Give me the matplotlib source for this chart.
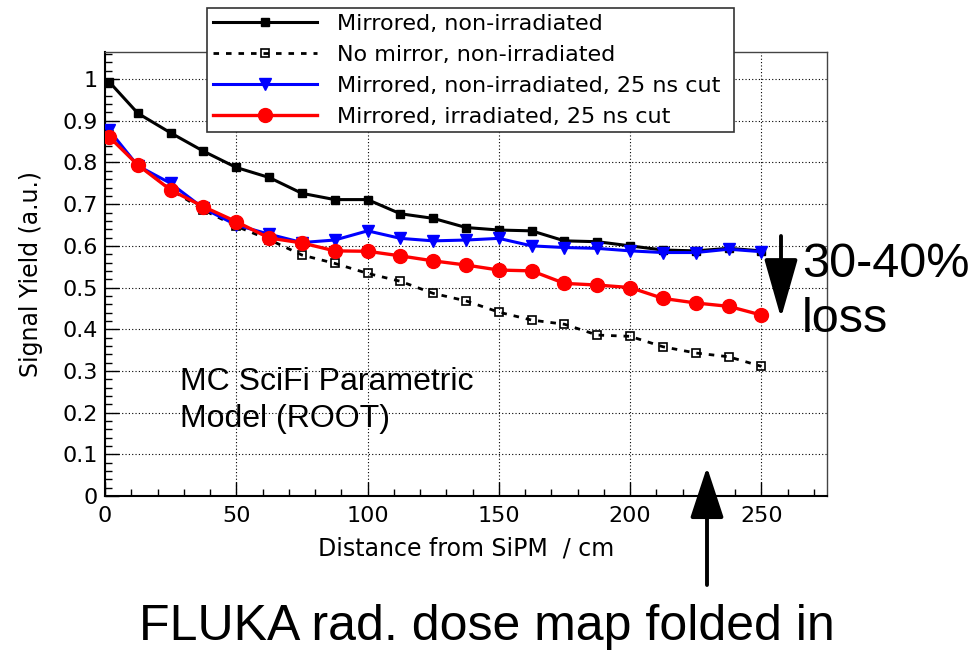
import numpy as np
import matplotlib
matplotlib.use("Agg")
import matplotlib.pyplot as plt
from matplotlib.patches import FancyArrowPatch
from matplotlib.ticker import MultipleLocator

# fibre distance from the SiPM (cm)
distance = [1.5, 12.5, 25, 37.5, 50, 62.5, 75, 87.5, 100, 112.5, 125,
            137.5, 150, 162.5, 175, 187.5, 200, 212.5, 225, 237.5, 250]

# signal yield (a.u.)
mirrored = [0.994, 0.918, 0.871, 0.827, 0.788, 0.764, 0.726, 0.711, 0.711, 0.677, 0.666,
            0.644, 0.638, 0.636, 0.612, 0.610, 0.600, 0.590, 0.588, 0.594, 0.588]
no_mirror = [0.866, 0.795, 0.735, 0.686, 0.647, 0.615, 0.578, 0.558, 0.534, 0.515, 0.486,
             0.468, 0.441, 0.422, 0.412, 0.386, 0.383, 0.358, 0.343, 0.334, 0.311]
mirrored_cut = [0.878, 0.792, 0.750, 0.690, 0.650, 0.628, 0.608, 0.614, 0.636, 0.618, 0.612,
                0.614, 0.618, 0.600, 0.596, 0.594, 0.588, 0.584, 0.584, 0.592, 0.586]
irradiated_cut = [0.862, 0.794, 0.734, 0.694, 0.658, 0.619, 0.607, 0.588, 0.587, 0.576, 0.564,
                  0.554, 0.542, 0.540, 0.510, 0.506, 0.500, 0.474, 0.463, 0.455, 0.434]

labels = ["Mirrored, non-irradiated",
          "No mirror, non-irradiated",
          "Mirrored, non-irradiated, 25 ns cut",
          "Mirrored, irradiated, 25 ns cut"]

plt.rcParams['font.family'] = ['DejaVu Sans']
ann_font = ['Liberation Sans', 'DejaVu Sans']

W, H = 969, 651
fig = plt.figure(figsize=(W / 100, H / 100), dpi=100)
ax = fig.add_axes([0.1084, 0.2381, 0.7451, 0.682])

l1, = ax.plot(distance, mirrored, color='black', lw=2.2, marker='s', ms=6,
              zorder=3)
l2, = ax.plot(distance, no_mirror, color='black', lw=2.0, ls=(0, (2, 2.5)),
              marker='s', ms=6, mfc='none', mec='black', mew=1.2, zorder=2)
l3, = ax.plot(distance, mirrored_cut, color='#0000ff', lw=2.2, marker='v', ms=9,
              zorder=4)
l4, = ax.plot(distance, irradiated_cut, color='#ff0000', lw=2.4, marker='o', ms=10,
              zorder=5)

ax.set_xlim(0, 275)
ax.set_ylim(0, 1.065)
ax.xaxis.set_major_locator(MultipleLocator(50))
ax.xaxis.set_minor_locator(MultipleLocator(10))
ax.yaxis.set_major_locator(MultipleLocator(0.1))
ax.yaxis.set_minor_locator(MultipleLocator(0.02))
ax.yaxis.set_major_formatter(plt.FuncFormatter(lambda v, p: '%g' % round(v, 1)))

ax.tick_params(which='both', direction='in', top=False, right=False,
               labelsize=16, colors='black')
ax.tick_params(axis='x', which='major', length=10, width=1, pad=7)
ax.tick_params(axis='y', which='major', length=10, width=1, pad=5)
ax.tick_params(which='minor', length=5, width=1)

ax.grid(True, which='major', color='black', lw=0.8, ls=(0, (1, 2)))

for side in ['top', 'right']:
    ax.spines[side].set_color('#444444')
    ax.spines[side].set_linewidth(1)
for side in ['left', 'bottom']:
    ax.spines[side].set_color('black')
    ax.spines[side].set_linewidth(1.5)

ax.set_xlabel("Distance from SiPM  / cm", fontsize=17, labelpad=8)
ax.set_ylabel("Signal Yield (a.u.)", fontsize=17, labelpad=14)

leg = fig.legend([l1, l2, l3, l4], labels, loc='upper left',
                 bbox_to_anchor=(207 / W, 1 - 8 / H, 527 / W, 0.0), mode='expand',
                 borderaxespad=0, fontsize=16, numpoints=1, handlelength=4.7,
                 handletextpad=0.9, labelspacing=0.5, borderpad=0.25,
                 fancybox=False, framealpha=1, edgecolor='#333333')
leg.get_frame().set_linewidth(1.2)

# annotations
fig.text(180 / W, 1 - 390 / H, "MC SciFi Parametric", fontsize=23,
         family=ann_font, va='baseline')
fig.text(180 / W, 1 - 427 / H, "Model (ROOT)", fontsize=23,
         family=ann_font, va='baseline')

fig.text(802 / W, 1 - 277 / H, "30-40%", fontsize=35, family=ann_font,
         va='baseline')
fig.text(802 / W, 1 - 332 / H, "loss", fontsize=35, family=ann_font,
         va='baseline')
fig.text(139 / W, 1 - 640 / H, "FLUKA rad. dose map folded in", fontsize=36,
         family=ann_font, va='baseline')

# arrows: (x, tail y, tip y, head length) in pixels from the top-left corner
for x, y0, y1, hl in [(781, 236, 318, 1.83), (707, 585, 467, 1.58)]:
    fig.add_artist(FancyArrowPatch(
        (x / W, 1 - y0 / H), (x / W, 1 - y1 / H), transform=fig.transFigure,
        arrowstyle='-|>,head_length=%g,head_width=0.52' % hl,
        mutation_scale=20, color='black', lw=2.8, shrinkA=0, shrinkB=0))

fig.savefig('out.png', dpi=100)
